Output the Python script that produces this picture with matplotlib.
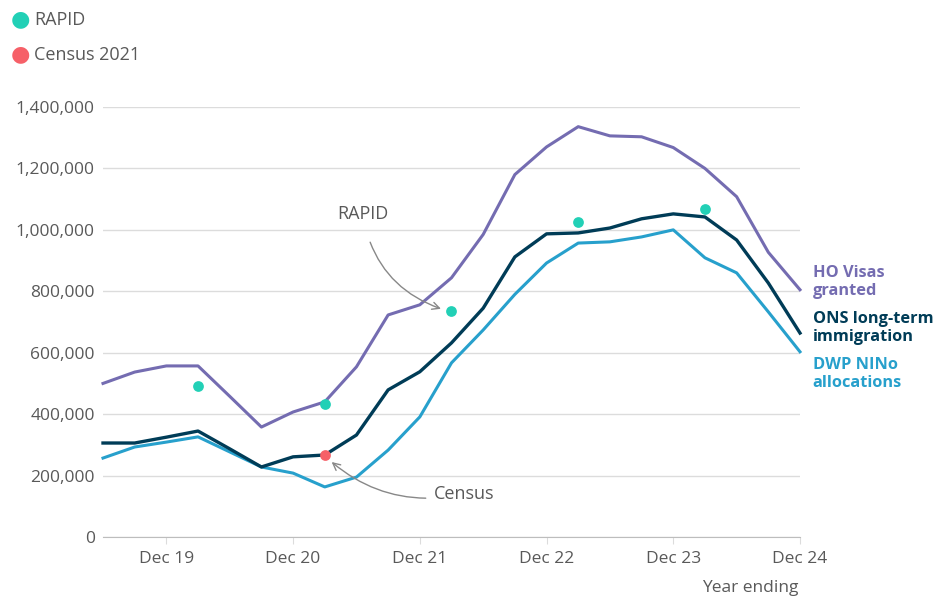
import matplotlib.pyplot as plt
from matplotlib.ticker import FuncFormatter

plt.rcParams['font.family'] = ['Open Sans', 'DejaVu Sans']

# quarters, year ending Jun 2019 .. Dec 2024
quarters = ['Jun 19', 'Sep 19', 'Dec 19', 'Mar 20', 'Jun 20', 'Sep 20', 'Dec 20',
            'Mar 21', 'Jun 21', 'Sep 21', 'Dec 21', 'Mar 22', 'Jun 22', 'Sep 22',
            'Dec 22', 'Mar 23', 'Jun 23', 'Sep 23', 'Dec 23', 'Mar 24', 'Jun 24',
            'Sep 24', 'Dec 24']
ho_visas = [500, 537, 557, 557, 458, 358, 407, 440, 554, 723, 756, 844, 985, 1180,
            1270, 1336, 1306, 1303, 1268, 1200, 1108, 927, 805]
ons_lti = [306, 306, 325, 345, 287, 228, 261, 267, 332, 479, 538, 632, 745, 912,
           987, 990, 1006, 1036, 1052, 1042, 967, 827, 664]
dwp_nino = [257, 293, 309, 326, 277, 228, 208, 163, 195, 283, 391, 567, 674, 790,
            892, 957, 961, 977, 1000, 909, 860, 733, 603]
rapid_q = ['Mar 20', 'Mar 21', 'Mar 22', 'Mar 23', 'Mar 24']
rapid = [492, 433, 735, 1026, 1068]
census_q = ['Mar 21']
census = [267]
tick_labels = ['Dec 19', 'Dec 20', 'Dec 21', 'Dec 22', 'Dec 23', 'Dec 24']

purple = '#746cb1'
navy = '#003c57'
sky = '#27a0cc'
aqua = '#22d0b6'
coral = '#f66068'
grey = '#595959'

x = list(range(len(quarters)))
pos = {q: i for i, q in enumerate(quarters)}

fig = plt.figure(figsize=(9.52, 5.99), dpi=100)
ax = fig.add_axes([103/952, 1-537/599, 697/952, 430/599])

ax.plot(x, [v*1000 for v in ho_visas], color=purple, lw=2.2, clip_on=False, zorder=3)
ax.plot(x, [v*1000 for v in dwp_nino], color=sky, lw=2.2, clip_on=False, zorder=3)
ax.plot(x, [v*1000 for v in ons_lti], color=navy, lw=2.4, clip_on=False, zorder=4)
ax.scatter([pos[q] for q in rapid_q], [v*1000 for v in rapid], s=60, color=aqua,
           zorder=5, clip_on=False, linewidths=0)
ax.scatter([pos[q] for q in census_q], [v*1000 for v in census], s=60, color=coral,
           zorder=5, clip_on=False, linewidths=0)

ax.set_xlim(0, 22)
ax.set_ylim(0, 1400000)
ax.set_yticks(range(0, 1400001, 200000))
ax.yaxis.set_major_formatter(FuncFormatter(lambda v, p: f'{int(v):,}'))
ax.set_xticks([pos[t] for t in tick_labels])
ax.set_xticklabels(tick_labels)
ax.grid(axis='y', color='#dcdcdc', lw=1)
ax.set_axisbelow(True)
for s in ['top', 'right', 'left']:
    ax.spines[s].set_visible(False)
ax.spines['bottom'].set_color('#bdbdbd')
ax.tick_params(axis='y', length=0, pad=6, labelsize=12.5, labelcolor=grey)
ax.tick_params(axis='x', length=5, color='#dcdcdc', pad=5, labelsize=12.5,
               labelcolor=grey)

fig.text(798/952, 1-588/599, 'Year ending', color=grey, fontsize=12.5,
         ha='right', va='center')

# line labels
ax.text(22.4, 830000, 'HO Visas\ngranted', color=purple, fontsize=11.8,
        fontweight='bold', va='center', linespacing=1.12)
ax.text(22.4, 680000, 'ONS long-term\nimmigration', color=navy, fontsize=11.8,
        fontweight='bold', va='center', linespacing=1.12)
ax.text(22.4, 530000, 'DWP NINo\nallocations', color=sky, fontsize=11.8,
        fontweight='bold', va='center', linespacing=1.12)

# annotations
ax.annotate('RAPID', xy=(pos['Mar 22'] - 0.25, 740000), xytext=(pos['Sep 21'] - 0.8, 1050000),
            color=grey, fontsize=13, ha='center', va='center',
            arrowprops=dict(arrowstyle='->', color='#888888', lw=1,
                            connectionstyle='arc3,rad=0.3', shrinkA=12))
ax.annotate('Census', xy=(pos['Mar 21'] + 0.15, 250000), xytext=(pos['Dec 21'] + 0.45, 140000),
            color=grey, fontsize=13, ha='left', va='center',
            arrowprops=dict(arrowstyle='->', color='#888888', lw=1,
                            connectionstyle='arc3,rad=-0.25', shrinkA=4))

# legend
fig.text(20/952, 1-20/599, '\u25CF', color=aqua, fontsize=16, ha='center', va='center')
fig.text(34/952, 1-20/599, 'RAPID', color=grey, fontsize=13, va='center')
fig.text(20/952, 1-55/599, '\u25CF', color=coral, fontsize=16, ha='center', va='center')
fig.text(34/952, 1-55/599, 'Census 2021', color=grey, fontsize=13, va='center')

fig.savefig('out.png', dpi=100, facecolor='white')
